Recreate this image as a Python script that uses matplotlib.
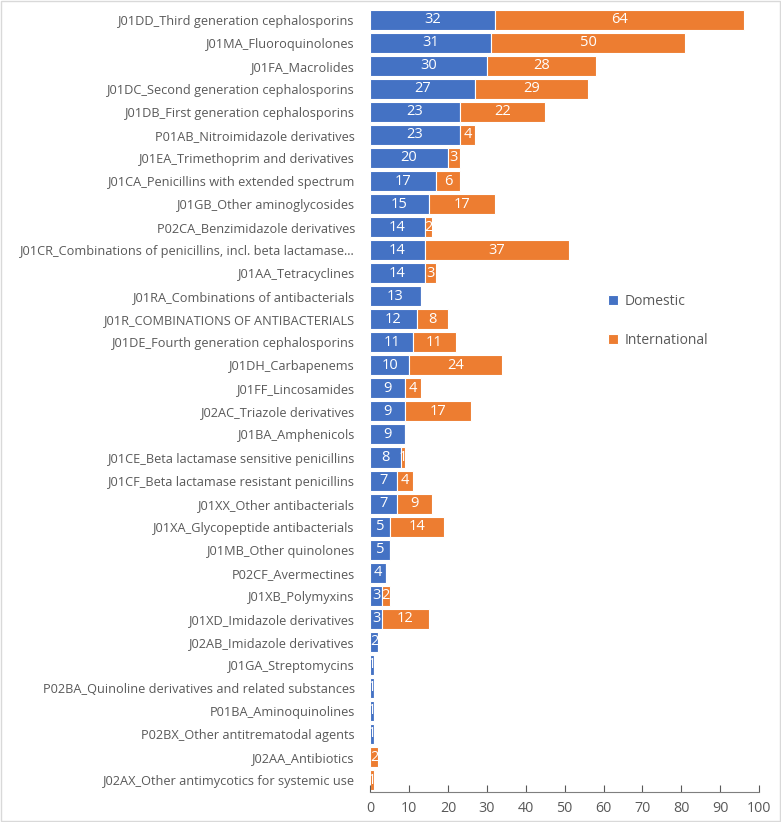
import numpy as np
import matplotlib.pyplot as plt
from matplotlib.patches import Rectangle

categories = [
    "J01DD_Third generation cephalosporins",
    "J01MA_Fluoroquinolones",
    "J01FA_Macrolides",
    "J01DC_Second generation cephalosporins",
    "J01DB_First generation cephalosporins",
    "P01AB_Nitroimidazole derivatives",
    "J01EA_Trimethoprim and derivatives",
    "J01CA_Penicillins with extended spectrum",
    "J01GB_Other aminoglycosides",
    "P02CA_Benzimidazole derivatives",
    "J01CR_Combinations of penicillins, incl. beta lactamase...",
    "J01AA_Tetracyclines",
    "J01RA_Combinations of antibacterials",
    "J01R_COMBINATIONS OF ANTIBACTERIALS",
    "J01DE_Fourth generation cephalosporins",
    "J01DH_Carbapenems",
    "J01FF_Lincosamides",
    "J02AC_Triazole derivatives",
    "J01BA_Amphenicols",
    "J01CE_Beta lactamase sensitive penicillins",
    "J01CF_Beta lactamase resistant penicillins",
    "J01XX_Other antibacterials",
    "J01XA_Glycopeptide antibacterials",
    "J01MB_Other quinolones",
    "P02CF_Avermectines",
    "J01XB_Polymyxins",
    "J01XD_Imidazole derivatives",
    "J02AB_Imidazole derivatives",
    "J01GA_Streptomycins",
    "P02BA_Quinoline derivatives and related substances",
    "P01BA_Aminoquinolines",
    "P02BX_Other antitrematodal agents",
    "J02AA_Antibiotics",
    "J02AX_Other antimycotics for systemic use",
]
domestic = [32, 31, 30, 27, 23, 23, 20, 17, 15, 14, 14, 14, 13, 12, 11, 10, 9, 9,
            9, 8, 7, 7, 5, 5, 4, 3, 3, 2, 1, 1, 1, 1, 0, 0]
international = [64, 50, 28, 29, 22, 4, 3, 6, 17, 2, 37, 3, 0, 8, 11, 24, 4, 17,
                 0, 1, 4, 9, 14, 0, 0, 2, 12, 0, 0, 0, 0, 0, 2, 1]

plt.rcParams["font.family"] = ["Open Sans", "DejaVu Sans"]

blue = "#4472C4"
orange = "#ED7D31"
grey = "#595959"

fig = plt.figure(figsize=(7.81, 8.22), dpi=100)
ax = fig.add_axes([0.474, 0.037, 0.498, 0.953])

y = np.arange(len(categories))
dom = np.array(domestic)
intl = np.array(international)

b1 = ax.barh(y, dom, height=0.87, color=blue, edgecolor="white", linewidth=0.8, label="Domestic")
b2 = ax.barh(y, intl, left=dom, height=0.87, color=orange, edgecolor="white", linewidth=0.8,
             label="International")

# data labels, skip empty segments
for bars, vals in ((b1, dom), (b2, intl)):
    for bar, v in zip(bars, vals):
        if v == 0:
            continue
        ax.text(bar.get_x() + bar.get_width() / 2, bar.get_y() + bar.get_height() / 2,
                str(v), ha="center", va="center", color="white", fontsize=10.5)

ax.set_ylim(len(categories) - 0.5, -0.5)
ax.set_xlim(0, 100)
ax.set_xticks(np.arange(0, 101, 10))
ax.set_yticks(y)
ax.set_yticklabels(categories)
ax.tick_params(axis="y", length=0, pad=11, labelsize=9.15, labelcolor=grey)
ax.tick_params(axis="x", direction="in", length=5, color=grey, labelsize=10.3,
               labelcolor=grey, pad=7)

for s in ("top", "right", "left"):
    ax.spines[s].set_visible(False)
ax.spines["bottom"].set_color("#7f7f7f")

ax.legend(loc="upper left", bbox_to_anchor=(0.58, 0.651), frameon=False, fontsize=10,
          labelcolor=grey, handlelength=0.7, handleheight=0.7, labelspacing=1.7,
          handletextpad=0.5)

fig.patches.append(Rectangle((0.001, 0.001), 0.998, 0.998, transform=fig.transFigure,
                             fill=False, edgecolor="#d9d9d9", linewidth=1))

plt.savefig("out.png", dpi=100)
